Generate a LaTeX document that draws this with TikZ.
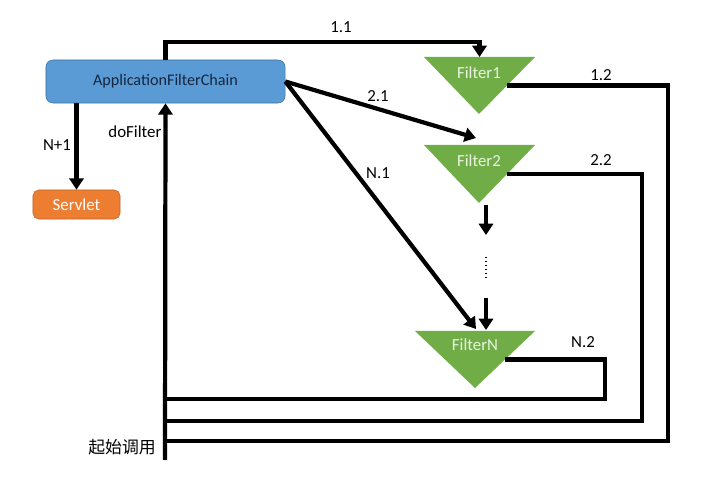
\documentclass[tikz,border=0pt]{standalone}
\usepackage{fontspec}
\setmainfont{Carlito}
\newfontfamily\cjk{Noto Sans CJK SC}
\usepackage{tikz}
\usetikzlibrary{arrows.meta,positioning,calc}
\definecolor{chainblue}{RGB}{91,155,213}
\definecolor{chainedge}{RGB}{65,113,156}
\definecolor{chaintext}{RGB}{22,38,64}
\definecolor{servletorange}{RGB}{237,125,49}
\definecolor{filtergreen}{RGB}{112,173,71}
\definecolor{filtertext}{RGB}{232,244,224}

\begin{document}
\begin{tikzpicture}[x=0.025cm, y=-0.025cm, every node/.style={font=\fontsize{12}{14}\selectfont},
  flow/.style={line width=3pt, -{Triangle[length=8pt,width=10pt]}},
  back/.style={line width=3pt},
  ftext/.style={text=filtertext}]
  \useasboundingbox (0,0) rectangle (712,485);

  \node[draw=chainedge, rounded corners=5pt, fill=chainblue, text=chaintext, font=\fontsize{11.5}{14}\selectfont, minimum width=5.975cm, minimum height=1.075cm] (chain) at (165.5,81.5) {ApplicationFilterChain};
  \node[draw=servletorange!80!black, rounded corners=4pt, fill=servletorange, text=white, minimum width=2.175cm, minimum height=0.725cm] (servlet) at (76.5,204.5) {Servlet};

  % filters
  \coordinate (f1l) at (424,57); \coordinate (f1r) at (535,57); \coordinate (f1a) at (479,114);
  \coordinate (f2l) at (424,145); \coordinate (f2r) at (535,145); \coordinate (f2a) at (479,203);
  \coordinate (fnl) at (415,331); \coordinate (fnr) at (535,331); \coordinate (fna) at (475,388);
  \fill[filtergreen] (f1l) -- (f1r) -- (f1a) -- cycle;
  \fill[filtergreen] (f2l) -- (f2r) -- (f2a) -- cycle;
  \fill[filtergreen] (fnl) -- (fnr) -- (fna) -- cycle;
  \node[ftext] (filter1) at (479,73) {Filter1};
  \node[ftext] (filter2) at (479,161) {Filter2};
  \node[ftext] (filtern) at (475,345) {FilterN};

  \coordinate (f1in) at ($(f1l)!0.5!(f1r)$);
  \coordinate (f2in) at (476,138);
  \coordinate (fnin) at (476,329);
  \coordinate (f1out) at ($(f1r)!0.5!(f1a)$);
  \coordinate (f2out) at ($(f2r)!0.5!(f2a)$);
  \coordinate (fnout) at ($(fnr)!0.5!(fna)$);
  \coordinate (start) at (165,460);
  \coordinate (j1) at (165,441);
  \coordinate (j2) at (165,421);
  \coordinate (j3) at (165,399);

  % calls
  \draw[flow] (chain.south -| servlet.north) -- (servlet.north);
  \draw[flow] (start) -- (chain.south);
  \draw[flow] (chain.north) -- ++(0,-18) -| (f1in);
  \draw[flow] (chain.east) -- (f2in);
  \draw[flow] (chain.east) -- (fnin);

  % returns
  \draw[back] (f1out) -- ++(161,0) |- (j1);
  \draw[back] (f2out) -- ++(135,0) |- (j2);
  \draw[back] (fnout) -- ++(100,0) |- (j3);

  % between filters
  \coordinate (d1) at (486,205); \coordinate (d2) at (486,235);
  \coordinate (d3) at (486,257); \coordinate (d4) at (486,277);
  \coordinate (d5) at (486,298); \coordinate (d6) at (486,330);
  \draw[flow] (d1) -- (d2);
  \draw[thick, dotted] (d3) -- (d4);
  \draw[flow] (d5) -- (d6);

  % labels
  \node (l11) at (341,27) {1.1};
  \node (l12) at (601,75) {1.2};
  \node (l21) at (378,96) {2.1};
  \node (l22) at (601,160) {2.2};
  \node (ln1) at (378,173) {N.1};
  \node (ln2) at (583,342) {N.2};
  \node (lnp1) at (57,145) {N+1};
  \node (ldo) at (135,132) {doFilter};
  \node (lstart) at (122,447) {\cjk 起始调用};
\end{tikzpicture}
\end{document}
